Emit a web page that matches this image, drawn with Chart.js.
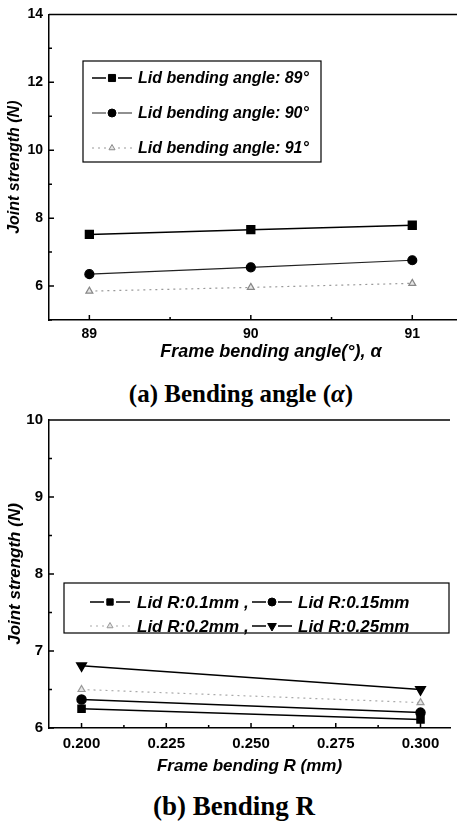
<!DOCTYPE html>
<html>
<head>
<meta charset="utf-8">
<script src="https://cdn.jsdelivr.net/npm/chart.js@4"></script>
<style>
  html, body { margin: 0; padding: 0; background: #fff; width: 457px; height: 821px; overflow: hidden; }
  #wrapA { position: absolute; left: 0; top: 0; }
  #wrapB { position: absolute; left: 0; top: 405px; }
  .cap { position: absolute; transform: translate(-50%, -50%); white-space: nowrap;
         font-family: "Liberation Serif", "Times New Roman", serif; font-weight: bold; color: #000; line-height: 1.1; }
</style>
</head>
<body>
<div id="wrapA"><canvas id="angleChart" width="500" height="363"></canvas></div>
<div class="cap" style="left:241px; top:394px; font-size:25px;">(a) Bending angle (<i>α</i>)</div>
<div id="wrapB"><canvas id="radiusChart" width="457" height="372"></canvas></div>
<div class="cap" style="left:234px; top:807px; font-size:27px;">(b) Bending R</div>
<script>
// (a) frame bending angle
const angleX = [89, 90, 91];
const lid89 = [7.52, 7.66, 7.79];
const lid90 = [6.35, 6.55, 6.76];
const lid91 = [5.85, 5.96, 6.08];
const angleTicks = [89, 89.5, 90, 90.5, 91];
const angleLabels = [89, 90, 91];
const strengthTicksA = [5, 6, 7, 8, 9, 10, 11, 12, 13, 14];
const strengthLabelsA = [6, 8, 10, 12, 14];

// (b) frame bending R
const radiusX = [0.2, 0.3];
const lidR01 = [6.25, 6.11];
const lidR015 = [6.37, 6.2];
const lidR02 = [6.5, 6.33];
const lidR025 = [6.81, 6.5];
const radiusTicks = [0.2, 0.2125, 0.225, 0.2375, 0.25, 0.2625, 0.275, 0.2875, 0.3];
const radiusLabels = [0.2, 0.225, 0.25, 0.275, 0.3];
const strengthTicksB = [6, 6.5, 7, 7.5, 8, 8.5, 9, 9.5, 10];
const strengthLabelsB = [6, 7, 8, 9, 10];

const FAM = "'Liberation Sans', Arial, sans-serif";

function pts(xs, ys) {
  return xs.map((x, i) => ({ x: x, y: ys[i] }));
}

function makeScale(o) {
  return {
    type: "linear",
    min: o.min,
    max: o.max,
    grid: { display: false, drawTicks: false },
    border: { display: true, color: "#000", width: 1.5 },
    afterBuildTicks: s => { s.ticks = o.ticks.map(v => ({ value: v })); },
    afterFit: s => { if (s.isHorizontal()) s.height = o.size; else s.width = o.size; },
    ticks: {
      autoSkip: false, maxRotation: 0, padding: o.pad, color: "#000",
      font: { family: FAM, weight: "bold", size: o.tickSize },
      callback: v => o.labels.includes(v) ? o.fmt(v) : ""
    },
    title: {
      display: true, text: o.title, color: "#000",
      font: { family: FAM, weight: "bold", style: "italic", size: o.titleSize },
      padding: o.titlePad
    }
  };
}

// top border + inward tick marks
const frame = {
  id: "frame",
  afterDatasetsDraw(chart, args, opts) {
    const { ctx, chartArea: a } = chart;
    ctx.save();
    ctx.strokeStyle = "#000";
    ctx.lineWidth = 1.5;
    ctx.beginPath();
    ctx.moveTo(a.left, a.top);
    ctx.lineTo(a.right, a.top);
    chart.scales.x.ticks.forEach(t => {
      const px = chart.scales.x.getPixelForValue(t.value);
      const len = opts.xLabels.includes(t.value) ? 5 : 3;
      ctx.moveTo(px, a.bottom);
      ctx.lineTo(px, a.bottom - len);
    });
    chart.scales.y.ticks.forEach(t => {
      const py = chart.scales.y.getPixelForValue(t.value);
      const len = opts.yLabels.includes(t.value) ? 5 : 3;
      ctx.moveTo(a.left, py);
      ctx.lineTo(a.left + len, py);
    });
    ctx.stroke();
    ctx.restore();
  }
};

// legend box inside the plot
const boxLegend = {
  id: "boxLegend",
  afterDatasetsDraw(chart, args, opts) {
    const ctx = chart.ctx;
    const b = opts.box;
    ctx.save();
    ctx.strokeStyle = "#000";
    ctx.lineWidth = 1.2;
    ctx.fillStyle = "#fff";
    ctx.fillRect(b[0], b[1], b[2] - b[0], b[3] - b[1]);
    ctx.strokeRect(b[0], b[1], b[2] - b[0], b[3] - b[1]);
    ctx.font = "italic bold " + opts.fontSize + "px " + FAM;
    ctx.textBaseline = "middle";
    opts.items.forEach(it => {
      const ds = chart.data.datasets[it.ds];
      ctx.setLineDash(ds.borderDash || []);
      ctx.strokeStyle = ds.borderColor;
      ctx.lineWidth = ds.borderWidth;
      ctx.beginPath();
      ctx.moveTo(it.x, it.y);
      ctx.lineTo(it.x + 14, it.y);
      ctx.moveTo(it.x + 26, it.y);
      ctx.lineTo(it.x + 40, it.y);
      ctx.stroke();
      ctx.setLineDash([]);
      ctx.fillStyle = ds.pointBackgroundColor;
      ctx.strokeStyle = ds.pointBorderColor;
      ctx.lineWidth = 1;
      Chart.helpers.drawPoint(ctx, {
        pointStyle: ds.pointStyle, radius: ds.pointRadius - 0.5,
        rotation: ds.pointRotation || 0, borderWidth: 1
      }, it.x + 20, it.y);
      ctx.fillStyle = "#000";
      ctx.fillText(it.text, it.textX, it.y + 1);
    });
    (opts.commas || []).forEach(c => ctx.fillText(",", c.x, c.y + 1));
    ctx.restore();
  }
};

function series(label, data, o) {
  return Object.assign({
    label: label, data: data, showLine: true, fill: false,
    borderColor: "#000", borderWidth: 1.5,
    pointBackgroundColor: "#000", pointBorderColor: "#000",
    pointRadius: 5, pointHoverRadius: 5
  }, o);
}

const common = {
  responsive: false,
  animation: false,
  events: [],
  layout: { padding: { top: 14, right: 0, left: 0, bottom: 0 } },
};

new Chart(document.getElementById("angleChart").getContext("2d"), {
  type: "scatter",
  data: {
    datasets: [
      series("Lid bending angle: 89°", pts(angleX, lid89), { pointStyle: "rect", pointRadius: 5.5 }),
      series("Lid bending angle: 90°", pts(angleX, lid90), { pointStyle: "circle", pointRadius: 4.5, borderColor: "#222", borderWidth: 1.2 }),
      series("Lid bending angle: 91°", pts(angleX, lid91), {
        pointStyle: "triangle", pointRadius: 4, borderColor: "#999", borderWidth: 1.2,
        borderDash: [2, 4], pointBackgroundColor: "#e6e6e6", pointBorderColor: "#888"
      })
    ]
  },
  options: Object.assign({}, common, {
    scales: {
      x: makeScale({ min: 88.75, max: 91.5, ticks: angleTicks, labels: angleLabels, fmt: v => String(v),
        size: 43, pad: 6, tickSize: 14, title: "Frame bending angle(°), α", titleSize: 18, titlePad: { top: 0, bottom: 0 } }),
      y: makeScale({ min: 5, max: 14, ticks: strengthTicksA, labels: strengthLabelsA, fmt: v => String(v),
        size: 49, pad: 6, tickSize: 14, title: "Joint strength (N)", titleSize: 16, titlePad: { top: 5, bottom: 0 } })
    },
    plugins: {
      legend: { display: false },
      tooltip: { enabled: false },
      frame: { xLabels: angleLabels, yLabels: strengthLabelsA },
      boxLegend: {
        box: [83, 61, 321, 162], fontSize: 16,
        items: [
          { ds: 0, x: 92, y: 78, textX: 138, text: "Lid bending angle: 89°" },
          { ds: 1, x: 92, y: 113, textX: 138, text: "Lid bending angle: 90°" },
          { ds: 2, x: 92, y: 148, textX: 138, text: "Lid bending angle: 91°" }
        ]
      }
    }
  }),
  plugins: [frame, boxLegend]
});

new Chart(document.getElementById("radiusChart").getContext("2d"), {
  type: "scatter",
  data: {
    datasets: [
      series("Lid R:0.1mm", pts(radiusX, lidR01), { pointStyle: "rect", pointRadius: 5 }),
      series("Lid R:0.15mm", pts(radiusX, lidR015), { pointStyle: "circle", pointRadius: 4.5 }),
      series("Lid R:0.2mm", pts(radiusX, lidR02), {
        pointStyle: "triangle", pointRadius: 4, borderColor: "#aaa", borderWidth: 1.2,
        borderDash: [2, 4], pointBackgroundColor: "#e6e6e6", pointBorderColor: "#999"
      }),
      series("Lid R:0.25mm", pts(radiusX, lidR025), { pointStyle: "triangle", pointRadius: 5.5, pointRotation: 180 })
    ]
  },
  options: Object.assign({}, common, {
    scales: {
      x: makeScale({ min: 0.1904, max: 0.3087, ticks: radiusTicks, labels: radiusLabels, fmt: v => v.toFixed(3),
        size: 49, pad: 7, tickSize: 15, title: "Frame bending R (mm)", titleSize: 17, titlePad: { top: 0, bottom: 0 } }),
      y: makeScale({ min: 6, max: 10, ticks: strengthTicksB, labels: strengthLabelsB, fmt: v => String(v),
        size: 49, pad: 6, tickSize: 15, title: "Joint strength (N)", titleSize: 17, titlePad: { top: 5, bottom: 0 } })
    },
    plugins: {
      legend: { display: false },
      tooltip: { enabled: false },
      frame: { xLabels: radiusLabels, yLabels: strengthLabelsB },
      boxLegend: {
        box: [64, 178, 449, 228], fontSize: 17,
        items: [
          { ds: 0, x: 90, y: 197, textX: 137, text: "Lid R:0.1mm" },
          { ds: 1, x: 252, y: 197, textX: 298, text: "Lid R:0.15mm" },
          { ds: 2, x: 90, y: 221, textX: 137, text: "Lid R:0.2mm" },
          { ds: 3, x: 252, y: 221, textX: 298, text: "Lid R:0.25mm" }
        ],
        commas: [{ x: 244, y: 197 }, { x: 244, y: 221 }]
      }
    }
  }),
  plugins: [frame, boxLegend]
});
</script>
</body>
</html>
